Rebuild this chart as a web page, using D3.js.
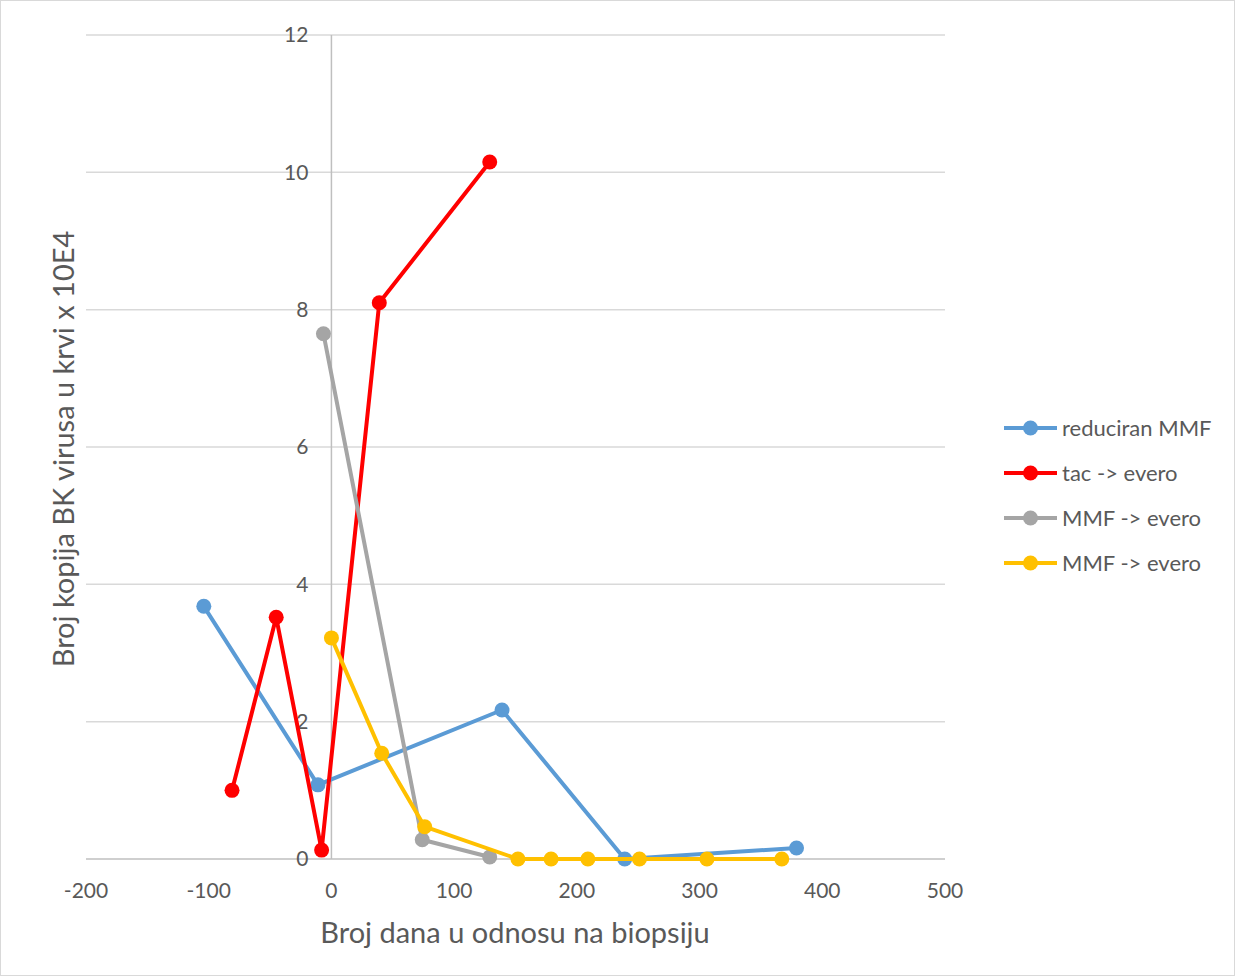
<!DOCTYPE html>
<html>
<head>
<meta charset="utf-8">
<script src="https://cdn.jsdelivr.net/npm/d3@7"></script>
<style>
  body { margin: 0; background: #fff; }
  text { font-family: Lato, "Open Sans", sans-serif; fill: #595959; }
</style>
</head>
<body>
<div id="wrapper"></div>
<script>
const seriesNames = ["reduciran MMF", "tac -> evero", "MMF -> evero", "MMF -> evero"];
const seriesColors = ["#5b9bd5", "#ff0000", "#a5a5a5", "#ffc000"];

const blueX = [-104, -11, 139, 239, 379];
const blueY = [3.68, 1.08, 2.17, 0.0, 0.16];
const redX = [-81, -45, -8, 39, 129];
const redY = [1.0, 3.52, 0.13, 8.1, 10.15];
const grayX = [-6.5, 74, 129];
const grayY = [7.65, 0.28, 0.03];
const yellowX = [0, 41, 76, 152, 179, 209, 251, 306, 367];
const yellowY = [3.22, 1.54, 0.47, 0, 0, 0, 0, 0, 0];

const xTicks = [-200, -100, 0, 100, 200, 300, 400, 500];
const yTicks = [0, 2, 4, 6, 8, 10, 12];

const series = [
  { xs: blueX, ys: blueY },
  { xs: redX, ys: redY },
  { xs: grayX, ys: grayY },
  { xs: yellowX, ys: yellowY },
].map((s, i) => ({
  name: seriesNames[i],
  color: seriesColors[i],
  points: s.xs.map((x, j) => ({ x, y: s.ys[j] })),
}));

const dimensions = {
  width: 1236,
  height: 978,
  margin: { top: 35, right: 291, bottom: 119, left: 86 },
};
dimensions.boundedWidth = dimensions.width - dimensions.margin.left - dimensions.margin.right;
dimensions.boundedHeight = dimensions.height - dimensions.margin.top - dimensions.margin.bottom;

const wrapper = d3.select("#wrapper")
  .append("svg")
  .attr("width", dimensions.width)
  .attr("height", dimensions.height);

wrapper.append("rect")
  .attr("x", 0.5).attr("y", 0.5)
  .attr("width", dimensions.width - 2).attr("height", dimensions.height - 3)
  .attr("fill", "#fff")
  .attr("stroke", "#d9d9d9");

const bounds = wrapper.append("g")
  .attr("transform", `translate(${dimensions.margin.left},${dimensions.margin.top})`);

const xScale = d3.scaleLinear().domain([-200, 500]).range([0, dimensions.boundedWidth]);
const yScale = d3.scaleLinear().domain([0, 12]).range([dimensions.boundedHeight, 0]);

// horizontal gridlines
bounds.append("g")
  .selectAll("line")
  .data(yTicks.filter(d => d !== 0))
  .join("line")
  .attr("x1", 0).attr("x2", dimensions.boundedWidth)
  .attr("y1", d => yScale(d)).attr("y2", d => yScale(d))
  .attr("stroke", "#d9d9d9").attr("stroke-width", 1.5);

// vertical axis at x = 0
bounds.append("line")
  .attr("x1", xScale(0)).attr("x2", xScale(0))
  .attr("y1", 0).attr("y2", dimensions.boundedHeight)
  .attr("stroke", "#bfbfbf").attr("stroke-width", 1.5);

// horizontal axis at y = 0
bounds.append("line")
  .attr("x1", 0).attr("x2", dimensions.boundedWidth)
  .attr("y1", yScale(0)).attr("y2", yScale(0))
  .attr("stroke", "#bfbfbf").attr("stroke-width", 1.5);

// y tick labels
bounds.append("g")
  .selectAll("text")
  .data(yTicks)
  .join("text")
  .attr("x", xScale(0) - 23)
  .attr("y", d => yScale(d))
  .attr("dy", "0.35em")
  .attr("text-anchor", "end")
  .style("font-size", "21px")
  .text(d => d);

// x tick labels
bounds.append("g")
  .selectAll("text")
  .data(xTicks)
  .join("text")
  .attr("x", d => xScale(d))
  .attr("y", dimensions.boundedHeight + 39)
  .attr("text-anchor", "middle")
  .style("font-size", "21px")
  .text(d => d);

// axis titles
wrapper.append("text")
  .attr("x", 515)
  .attr("y", 943)
  .attr("text-anchor", "middle")
  .style("font-size", "29px")
  .text("Broj dana u odnosu na biopsiju");

wrapper.append("text")
  .attr("transform", "translate(74,449) rotate(-90)")
  .attr("text-anchor", "middle")
  .style("font-size", "29px")
  .text("Broj kopija BK virusa u krvi x 10E4");

// lines and markers
const lineGenerator = d3.line()
  .x(d => xScale(d.x))
  .y(d => yScale(d.y));

const seriesGroups = bounds.selectAll(".series")
  .data(series)
  .join("g")
  .attr("class", "series");

seriesGroups.append("path")
  .attr("d", d => lineGenerator(d.points))
  .attr("fill", "none")
  .attr("stroke", d => d.color)
  .attr("stroke-width", 4)
  .attr("stroke-linejoin", "round");

seriesGroups.each(function (s) {
  d3.select(this).selectAll("circle")
    .data(s.points)
    .join("circle")
    .attr("cx", d => xScale(d.x))
    .attr("cy", d => yScale(d.y))
    .attr("r", 7.5)
    .attr("fill", s.color);
});

// legend
const legend = wrapper.append("g")
  .attr("transform", "translate(1004,428)");

const legendItems = legend.selectAll("g")
  .data(series)
  .join("g")
  .attr("transform", (d, i) => `translate(0,${i * 45})`);

legendItems.append("line")
  .attr("x1", 0).attr("x2", 53)
  .attr("stroke", d => d.color)
  .attr("stroke-width", 4);

legendItems.append("circle")
  .attr("cx", 26.5).attr("r", 7.5)
  .attr("fill", d => d.color);

legendItems.append("text")
  .attr("x", 58)
  .attr("dy", "0.35em")
  .style("font-size", "22px")
  .text(d => d.name);
</script>
</body>
</html>
